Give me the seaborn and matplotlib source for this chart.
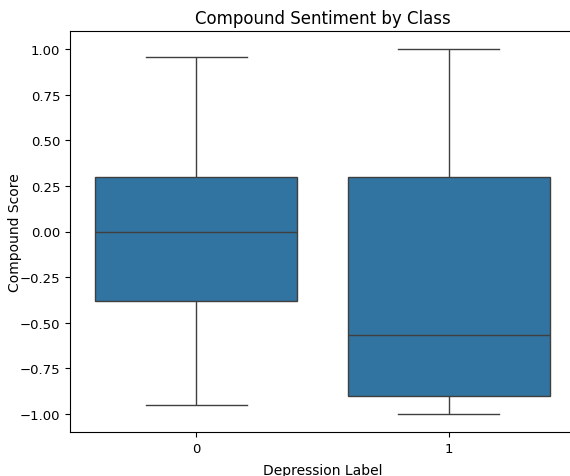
import pandas as pd
import matplotlib.pyplot as plt
import seaborn as sns

# five-number summaries (min, q1, median, q3, max)
labels = [0, 1]
compound_0 = [-0.95, -0.38, 0.0, 0.30, 0.96]
compound_1 = [-1.0, -0.90, -0.57, 0.30, 1.0]

df = pd.DataFrame({
    'label': [labels[0]] * len(compound_0) + [labels[1]] * len(compound_1),
    'compound': compound_0 + compound_1,
})

fig = plt.figure(figsize=(5.7, 4.77), dpi=100)
ax = fig.add_axes([70 / 570, 44 / 477, 505 / 570, 401 / 477])
sns.boxplot(x='label', y='compound', data=df, ax=ax)
ax.set_title("Compound Sentiment by Class", fontsize=12)
ax.set_xlabel("Depression Label", fontsize=10)
ax.set_ylabel("Compound Score", fontsize=10)
ax.tick_params(labelsize=9.5)
ax.yaxis.set_label_coords(-(70 - 22) / 505, 0.5)
ax.xaxis.set_label_coords(0.5, -31 / 401)
fig.savefig("out.png", dpi=100)
